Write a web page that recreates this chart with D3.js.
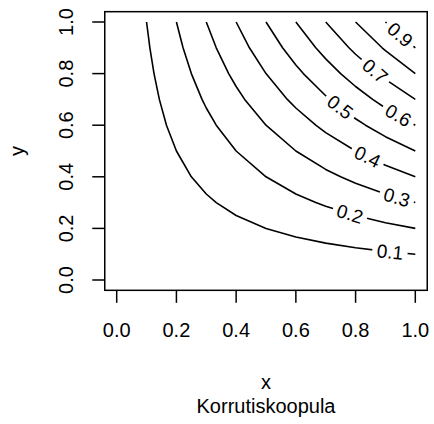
<!DOCTYPE html>
<html>
<head>
<meta charset="utf-8">
<script src="https://cdn.jsdelivr.net/npm/d3@7"></script>
<style>
  body { margin: 0; background: #fff; }
  text { font-family: "Liberation Sans", Arial, sans-serif; fill: #000; }
</style>
</head>
<body>
<svg id="chart" width="434" height="424"></svg>
<script>
// Evaluation grid for the product copula C(u, v) = u * v
const gridU = [0, 0.1, 0.2, 0.3, 0.4, 0.5, 0.6, 0.7, 0.8, 0.9, 1];
const gridV = [0, 0.1, 0.2, 0.3, 0.4, 0.5, 0.6, 0.7, 0.8, 0.9, 1];
// Contour levels and where each one carries its label (u of the label centre)
const levels = [0.1, 0.2, 0.3, 0.4, 0.5, 0.6, 0.7, 0.8, 0.9];
const labelLevels = [0.1, 0.2, 0.3, 0.4, 0.5, 0.6, 0.7, 0.9];
const labelU = [0.915, 0.781, 0.938, 0.84, 0.748, 0.943, 0.865, 0.949];
const xTicks = [0, 0.2, 0.4, 0.6, 0.8, 1];
const yTicks = [0, 0.2, 0.4, 0.6, 0.8, 1];
const xTitle = "x";
const yTitle = "y";
const subTitle = "Korrutiskoopula";

const svg = d3.select("#chart");
const x = d3.scaleLinear().domain([0, 1]).range([116.7, 415.3]);
const y = d3.scaleLinear().domain([0, 1]).range([280, 22]);
const fmt = d3.format(".1f");

// grid values, row-major with v along rows
const nx = gridU.length, ny = gridV.length;
const values = [];
gridV.forEach(v => gridU.forEach(u => values.push(u * v)));

const contours = d3.contours().size([nx, ny]).thresholds(levels)(values);
const gx = d3.scaleLinear().domain([0.5, nx - 0.5]).range([gridU[0], gridU[nx - 1]]);
const gy = d3.scaleLinear().domain([0.5, ny - 0.5]).range([gridV[0], gridV[ny - 1]]);

// Turn each closed region ring into the open level curves (drop grid-border edges)
function levelLines(c) {
  const lines = [];
  c.coordinates.forEach(poly => poly.forEach(ring => {
    let pts = ring.slice(0, -1);
    const onEdge = p => p[0] === 0 || p[0] === nx || p[1] === 0 || p[1] === ny;
    const k = pts.findIndex(onEdge);
    if (k > 0) pts = pts.slice(k).concat(pts.slice(0, k));
    let run = [];
    pts.concat(k >= 0 ? [pts[0]] : []).forEach(p => {
      if (onEdge(p)) { if (run.length > 1) lines.push(run); run = []; }
      else run.push([gx(p[0]), gy(p[1])]);
    });
    if (run.length > 1) lines.push(run);
  }));
  return lines.map(l => l.sort((a, b) => a[0] - b[0]));
}
const curves = contours.map(c => ({ level: c.value, lines: levelLines(c) }));

// label placement: point on the drawn polyline and its direction
const labels = labelLevels.map((lv, i) => {
  const cv = curves.find(c => Math.abs(c.level - lv) < 1e-9);
  const line = cv.lines[0];
  const u0 = labelU[i];
  let j = 0;
  while (j < line.length - 2 && line[j + 1][0] < u0) j++;
  const a = line[j], b = line[j + 1];
  const t = (u0 - a[0]) / (b[0] - a[0]);
  const v0 = a[1] + t * (b[1] - a[1]);
  const px = x(u0), py = y(v0);
  const ang = Math.atan2(y(b[1]) - y(a[1]), x(b[0]) - x(a[0])) * 180 / Math.PI;
  return { level: lv, px, py, ang };
});

// mask that opens a gap in each line under its label
const defs = svg.append("defs");
const mask = defs.append("mask").attr("id", "labelGaps").attr("maskUnits", "userSpaceOnUse")
  .attr("x", 0).attr("y", 0).attr("width", 434).attr("height", 424);
mask.append("rect").attr("width", 434).attr("height", 424).attr("fill", "#fff");

const labelG = svg.append("g");
labels.forEach(l => {
  const t = labelG.append("text")
    .attr("transform", `translate(${l.px},${l.py}) rotate(${l.ang})`)
    .attr("text-anchor", "middle")
    .attr("dy", "0.35em")
    .style("font-size", "19px")
    .text(fmt(l.level));
  const w = t.node().getComputedTextLength() + 9;
  mask.append("rect")
    .attr("transform", `translate(${l.px},${l.py}) rotate(${l.ang})`)
    .attr("x", -w / 2).attr("y", -9).attr("width", w).attr("height", 18)
    .attr("fill", "#000");
});

const lineGen = d3.line().x(d => x(d[0])).y(d => y(d[1]));
svg.insert("g", () => labelG.node())
  .attr("mask", "url(#labelGaps)")
  .selectAll("path")
  .data(curves.flatMap(c => c.lines))
  .join("path")
  .attr("d", lineGen)
  .attr("fill", "none")
  .attr("stroke", "#000")
  .attr("stroke-width", 1.6)
  .attr("stroke-linejoin", "round");

// plot frame (4% padding around the unit square)
svg.append("rect")
  .attr("x", x(-0.04)).attr("y", y(1.04))
  .attr("width", x(1.04) - x(-0.04)).attr("height", y(-0.04) - y(1.04))
  .attr("fill", "none").attr("stroke", "#000").attr("stroke-width", 1.5);

// x axis
const xb = y(-0.04);
svg.append("g").selectAll("line").data(xTicks).join("line")
  .attr("x1", d => x(d)).attr("x2", d => x(d))
  .attr("y1", xb).attr("y2", xb + 12.5)
  .attr("stroke", "#000").attr("stroke-width", 1.5);
svg.append("g").selectAll("text").data(xTicks).join("text")
  .attr("x", d => x(d)).attr("y", 337)
  .attr("text-anchor", "middle").style("font-size", "20px")
  .text(d => fmt(d));

// y axis
const yl = x(-0.04);
svg.append("g").selectAll("line").data(yTicks).join("line")
  .attr("y1", d => y(d)).attr("y2", d => y(d))
  .attr("x1", yl).attr("x2", yl - 12.5)
  .attr("stroke", "#000").attr("stroke-width", 1.5);
svg.append("g").selectAll("text").data(yTicks).join("text")
  .attr("transform", d => `translate(73,${y(d)}) rotate(-90)`)
  .attr("text-anchor", "middle").style("font-size", "20px")
  .text(d => fmt(d));

// titles
const cx = (x(-0.04) + x(1.04)) / 2;
const cy = (y(-0.04) + y(1.04)) / 2;
svg.append("text").attr("x", cx).attr("y", 388.5)
  .attr("text-anchor", "middle").style("font-size", "20px").text(xTitle);
svg.append("text").attr("x", cx).attr("y", 412.7)
  .attr("text-anchor", "middle").style("font-size", "20px").text(subTitle);
svg.append("text").attr("transform", `translate(24,${cy}) rotate(-90)`)
  .attr("text-anchor", "middle").style("font-size", "20px").text(yTitle);
</script>
</body>
</html>
